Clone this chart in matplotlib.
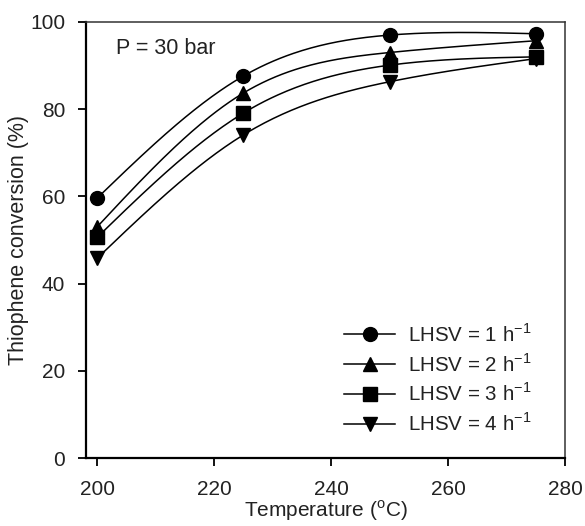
import numpy as np
import matplotlib
matplotlib.use("Agg")
import matplotlib.pyplot as plt

plt.rcParams['font.family'] = ['Liberation Sans', 'DejaVu Sans']
plt.rcParams['mathtext.fontset'] = 'custom'
plt.rcParams['mathtext.rm'] = 'Liberation Sans'

temperature = [200, 225, 250, 275]
conv_lhsv1 = [59.6, 87.6, 97.0, 97.3]
conv_lhsv2 = [53.0, 83.7, 93.0, 95.7]
conv_lhsv3 = [50.6, 79.1, 90.1, 92.0]
conv_lhsv4 = [45.8, 74.1, 86.3, 91.6]
labels = ['LHSV = 1 h$^\\mathregular{-1}$', 'LHSV = 2 h$^\\mathregular{-1}$',
          'LHSV = 3 h$^\\mathregular{-1}$', 'LHSV = 4 h$^\\mathregular{-1}$']
markers = ['o', '^', 's', 'v']


def natural_spline(x, y, n=200):
    # natural cubic spline for the smooth connecting curves
    x = np.asarray(x, float)
    y = np.asarray(y, float)
    k = len(x)
    h = np.diff(x)
    A = np.zeros((k, k))
    b = np.zeros(k)
    A[0, 0] = A[-1, -1] = 1
    for i in range(1, k - 1):
        A[i, i - 1] = h[i - 1]
        A[i, i] = 2 * (h[i - 1] + h[i])
        A[i, i + 1] = h[i]
        b[i] = 6 * ((y[i + 1] - y[i]) / h[i] - (y[i] - y[i - 1]) / h[i - 1])
    M = np.linalg.solve(A, b)
    xs = np.linspace(x[0], x[-1], n)
    idx = np.clip(np.searchsorted(x, xs) - 1, 0, k - 2)
    x0, x1 = x[idx], x[idx + 1]
    hh = x1 - x0
    t0, t1 = x1 - xs, xs - x0
    ys = (M[idx] * t0**3 + M[idx + 1] * t1**3) / (6 * hh) \
        + (y[idx] / hh - M[idx] * hh / 6) * t0 \
        + (y[idx + 1] / hh - M[idx + 1] * hh / 6) * t1
    return xs, ys


fig = plt.figure(figsize=(5.85, 5.26), dpi=100)
ax = fig.add_axes([86 / 585, 1 - 458 / 526, (565 - 86) / 585, (458 - 22) / 526])

for series, mk, lab in zip([conv_lhsv1, conv_lhsv2, conv_lhsv3, conv_lhsv4], markers, labels):
    xs, ys = natural_spline(temperature, series)
    ax.plot(xs, ys, color='black', lw=1.1, zorder=2)
    ax.plot(temperature, series, linestyle='none', marker=mk, ms=10, color='black', zorder=3)
    ax.plot([], [], color='black', lw=1.1, marker=mk, ms=10, label=lab)

ax.set_xlim(198.1, 280)
ax.set_ylim(0, 100)
ax.set_xticks([200, 220, 240, 260, 280])
ax.set_yticks([0, 20, 40, 60, 80, 100])
ax.tick_params(direction='out', length=6, width=1.3, labelsize=15, colors='black',
               labelcolor='#222222')
ax.tick_params(axis='x', pad=9.5)
ax.tick_params(axis='y', pad=9)
for side in ['left', 'bottom']:
    ax.spines[side].set_linewidth(1.6)
for side in ['top', 'right']:
    ax.spines[side].set_linewidth(1.1)
    ax.spines[side].set_color('#333333')

ax.set_xlabel('Temperature ($^\\mathregular{o}$C)', fontsize=15, color='#222222', labelpad=0)
ax.set_ylabel('Thiophene conversion (%)', fontsize=15.5, color='#222222', labelpad=1)

ax.text(0.063, 0.94, 'P = 30 bar', transform=ax.transAxes, fontsize=15.5,
        color='#222222', va='center', ha='left')

ax.legend(loc='lower right', frameon=False, fontsize=14.8, handlelength=2.5,
          labelspacing=0.35, handletextpad=0.6, borderaxespad=0.0, borderpad=0.0,
          bbox_to_anchor=(0.929, 0.053), labelcolor='#222222')

fig.savefig('out.png', dpi=100)
